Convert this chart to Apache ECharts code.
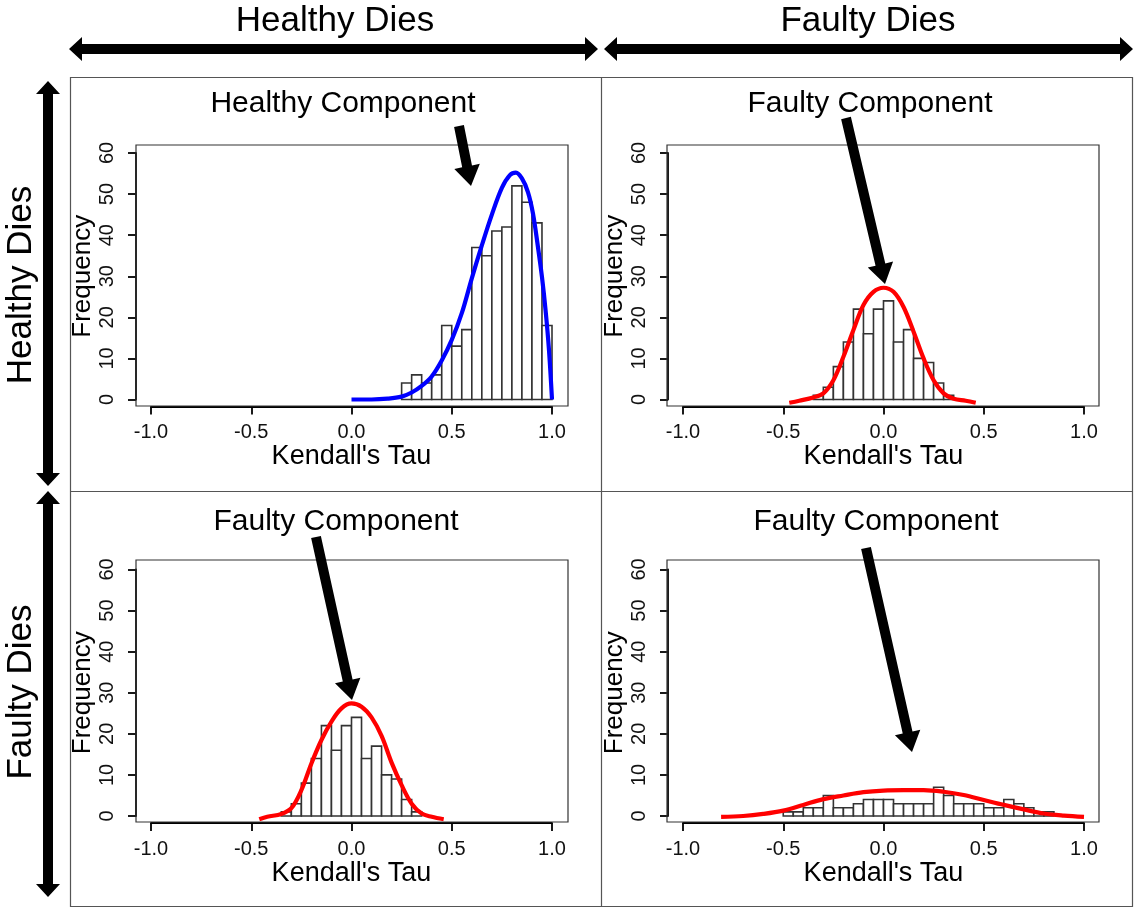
<!DOCTYPE html>
<html>
<head>
<meta charset="utf-8">
<title>Kendall's Tau histograms</title>
<script src="https://cdn.jsdelivr.net/npm/echarts@6/dist/echarts.min.js"></script>
<style>
  html, body { margin: 0; padding: 0; background: #ffffff; }
  #chart { width: 1134px; height: 909px; }
</style>
</head>
<body>
<div id="chart"></div>
<script>
// ---- data ---------------------------------------------------------------
const binWidth = 0.05;
const xTicks = [-1.0, -0.5, 0.0, 0.5, 1.0];
const yTicks = [0, 10, 20, 30, 40, 50, 60];

const rowLabels = ['Healthy Dies', 'Faulty Dies'];
const colLabels = ['Healthy Dies', 'Faulty Dies'];
const panelTitles = ['Healthy Component', 'Faulty Component', 'Faulty Component', 'Faulty Component'];

// healthy vs healthy
const hhBins   = [0.25, 0.30, 0.35, 0.40, 0.45, 0.50, 0.55, 0.60, 0.65, 0.70, 0.75, 0.80, 0.85, 0.90, 0.95];
const hhCounts = [4, 6, 4, 6, 18, 13, 17, 37, 35, 41, 42, 52, 48, 43, 18];
const hhCurveTau  = [0.00, 0.10, 0.18, 0.25, 0.30, 0.35, 0.40, 0.45, 0.50, 0.55, 0.60, 0.65, 0.70, 0.75, 0.79, 0.82, 0.85, 0.88, 0.905, 0.93, 0.95, 0.968, 0.985, 1.00];
const hhCurveFreq = [0.0, 0.0, 0.2, 0.7, 1.7, 3.3, 5.6, 9.5, 14.5, 21.0, 29.5, 37.5, 45.0, 51.5, 54.6, 55.2, 53.8, 50.5, 45.3, 37.1, 29.8, 21.7, 12.0, 0.0];

// healthy vs faulty
const hfBins   = [-0.35, -0.30, -0.25, -0.20, -0.15, -0.10, -0.05, 0.00, 0.05, 0.10, 0.15, 0.20, 0.25, 0.30];
const hfCounts = [1, 3, 8, 14, 22, 16, 22, 24, 14, 17, 10, 9, 4, 1];
const hfCurveTau  = [-0.47, -0.42, -0.35, -0.30, -0.25, -0.20, -0.15, -0.10, -0.05, 0.00, 0.05, 0.10, 0.15, 0.20, 0.25, 0.30, 0.35, 0.41, 0.46];
const hfCurveFreq = [-0.8, -0.3, 0.5, 1.5, 4.7, 10.4, 16.9, 23.0, 26.2, 27.2, 26.2, 22.5, 16.5, 10.0, 4.7, 1.5, 0.2, -0.3, -0.8];

// faulty vs healthy
const fhBins   = [-0.35, -0.30, -0.25, -0.20, -0.15, -0.10, -0.05, 0.00, 0.05, 0.10, 0.15, 0.20, 0.25, 0.30];
const fhCounts = [1, 3, 8, 14, 22, 16, 22, 24, 14, 17, 10, 9, 4, 1];
const fhCurveTau  = [-0.46, -0.42, -0.35, -0.30, -0.25, -0.20, -0.15, -0.10, -0.05, 0.00, 0.05, 0.10, 0.15, 0.20, 0.25, 0.30, 0.35, 0.40, 0.46];
const fhCurveFreq = [-0.8, -0.2, 0.5, 1.9, 6.3, 12.8, 18.5, 23.0, 26.2, 27.4, 26.6, 24.0, 19.5, 13.0, 7.5, 3.0, 0.6, -0.2, -0.8];

// faulty vs faulty
const ffBins   = [-0.50, -0.45, -0.40, -0.35, -0.30, -0.25, -0.20, -0.15, -0.10, -0.05, 0.00, 0.05, 0.10, 0.15, 0.20, 0.25, 0.30, 0.35, 0.40, 0.45, 0.50, 0.55, 0.60, 0.65, 0.70, 0.75, 0.80];
const ffCounts = [1, 1, 2, 2, 5, 2, 2, 3, 4, 4, 4, 3, 3, 3, 3, 7, 5, 3, 3, 3, 2, 2, 4, 3, 2, 1, 1];
const ffCurveTau  = [-0.81, -0.70, -0.60, -0.50, -0.40, -0.30, -0.20, -0.10, 0.00, 0.10, 0.20, 0.30, 0.40, 0.50, 0.60, 0.70, 0.80, 0.90, 1.00];
const ffCurveFreq = [-0.2, 0.0, 0.5, 1.3, 2.7, 4.1, 5.0, 5.8, 6.2, 6.3, 6.3, 5.9, 5.1, 3.9, 2.7, 1.6, 0.6, 0.1, -0.2];

// ---- layout ---------------------------------------------------------------
const FONT = '"Liberation Sans", Arial, sans-serif';
const panels = [
  { bins: hhBins, counts: hhCounts, tau: hhCurveTau, freq: hhCurveFreq, color: '#0000ff',
    left: 151, top: 153, box: [136, 145, 432, 261], title: [343, 104], arrow: [459, 126, 471, 186] },
  { bins: hfBins, counts: hfCounts, tau: hfCurveTau, freq: hfCurveFreq, color: '#ff0000',
    left: 683, top: 153, box: [667, 145, 432, 261], title: [870, 104], arrow: [846, 118, 885, 284] },
  { bins: fhBins, counts: fhCounts, tau: fhCurveTau, freq: fhCurveFreq, color: '#ff0000',
    left: 151, top: 569.5, box: [136, 560, 432, 262], title: [336, 522], arrow: [316, 537, 352, 700] },
  { bins: ffBins, counts: ffCounts, tau: ffCurveTau, freq: ffCurveFreq, color: '#ff0000',
    left: 683, top: 569.5, box: [667, 560, 432, 262], title: [876, 522], arrow: [866, 548, 912, 752] }
];
const plotW = 401, plotH = 246.5;

// polygon for a straight arrow, optionally with a head at both ends
function arrowPoints(x1, y1, x2, y2, shaft, headLen, headHalf, both) {
  const dx = x2 - x1, dy = y2 - y1, L = Math.hypot(dx, dy);
  const ux = dx / L, uy = dy / L, nx = -uy, ny = ux, s = shaft / 2;
  const bx = x2 - ux * headLen, by = y2 - uy * headLen;
  const pts = [];
  if (both) {
    const ax = x1 + ux * headLen, ay = y1 + uy * headLen;
    pts.push([ax - nx * s, ay - ny * s], [ax - nx * headHalf, ay - ny * headHalf], [x1, y1],
             [ax + nx * headHalf, ay + ny * headHalf], [ax + nx * s, ay + ny * s]);
  } else {
    pts.push([x1 - nx * s, y1 - ny * s], [x1 + nx * s, y1 + ny * s]);
  }
  pts.push([bx + nx * s, by + ny * s], [bx + nx * headHalf, by + ny * headHalf], [x2, y2],
           [bx - nx * headHalf, by - ny * headHalf], [bx - nx * s, by - ny * s]);
  return pts;
}

const grid = [], xAxis = [], yAxis = [], series = [], graphic = [];

panels.forEach((p, i) => {
  grid.push({ left: p.left, top: p.top, width: plotW, height: plotH, containLabel: false });
  xAxis.push({
    gridIndex: i, type: 'value', min: xTicks[0], max: xTicks[xTicks.length - 1], interval: 0.5,
    offset: 7, name: "Kendall's Tau", nameLocation: 'middle', nameGap: 31,
    nameTextStyle: { fontFamily: FONT, fontSize: 27, color: '#000' },
    axisLine: { show: true, onZero: false, lineStyle: { color: '#000', width: 1.8 } },
    axisTick: { show: true, inside: false, length: 8, lineStyle: { color: '#000', width: 1.8 } },
    axisLabel: { show: true, margin: 16, fontFamily: FONT, fontSize: 20, color: '#111',
                 showMinLabel: true, showMaxLabel: true, hideOverlap: false,
                 formatter: v => v.toFixed(1) },
    splitLine: { show: false }
  });
  yAxis.push({
    gridIndex: i, type: 'value', min: yTicks[0], max: yTicks[yTicks.length - 1], interval: 10,
    offset: 15, name: 'Frequency', nameLocation: 'middle', nameGap: 40,
    nameTextStyle: { fontFamily: FONT, fontSize: 26, color: '#000' },
    axisLine: { show: true, onZero: false, lineStyle: { color: '#000', width: 1.8 } },
    axisTick: { show: true, inside: false, length: 8, lineStyle: { color: '#000', width: 1.8 } },
    axisLabel: { show: true, margin: 19, rotate: 90, fontFamily: FONT, fontSize: 20, color: '#111',
                 showMinLabel: true, showMaxLabel: true, hideOverlap: false },
    splitLine: { show: false }
  });
  series.push({
    type: 'custom', xAxisIndex: i, yAxisIndex: i, z: 2,
    data: p.bins.map((b, k) => [b, b + binWidth, p.counts[k]]),
    encode: { x: [0, 1], y: 2 },
    renderItem: (params, api) => {
      const a = api.coord([api.value(0), 0]);
      const b = api.coord([api.value(1), api.value(2)]);
      return { type: 'rect',
               shape: { x: a[0], y: b[1], width: b[0] - a[0], height: a[1] - b[1] },
               style: { fill: '#ffffff', stroke: '#333333', lineWidth: 1.6 } };
    }
  });
  series.push({
    type: 'line', xAxisIndex: i, yAxisIndex: i, z: 3, smooth: 0.35, clip: false,
    symbol: 'none', data: p.tau.map((t, k) => [t, p.freq[k]]),
    lineStyle: { color: p.color, width: 4.2 }
  });
  // plot frame
  graphic.push({ type: 'rect', shape: { x: p.box[0], y: p.box[1], width: p.box[2], height: p.box[3] },
                 style: { fill: 'none', stroke: '#333', lineWidth: 1.2 }, z: 1, silent: true });
  // panel title and pointer arrow
  graphic.push({ type: 'text', x: p.title[0], y: p.title[1], z: 5,
                 style: { text: panelTitles[i], font: '30px ' + FONT, fill: '#000',
                          textAlign: 'center', textVerticalAlign: 'middle' } });
  const a = p.arrow;
  graphic.push({ type: 'polygon', z: 5, shape: { points: arrowPoints(a[0], a[1], a[2], a[3], 10, 20, 13, false) },
                 style: { fill: '#000' } });
});

// outer frame dividing the four cells
graphic.push({ type: 'rect', shape: { x: 70.5, y: 77.5, width: 1062, height: 829 },
               style: { fill: 'none', stroke: '#555', lineWidth: 1.2 }, z: 0 });
graphic.push({ type: 'line', shape: { x1: 601.5, y1: 77.5, x2: 601.5, y2: 906.5 },
               style: { stroke: '#555', lineWidth: 1.2 }, z: 0 });
graphic.push({ type: 'line', shape: { x1: 70.5, y1: 491.5, x2: 1132.5, y2: 491.5 },
               style: { stroke: '#555', lineWidth: 1.2 }, z: 0 });

// column and row headers with double-headed arrows
graphic.push({ type: 'text', x: 335, y: 21, style: { text: colLabels[0], font: '35px ' + FONT, fill: '#000', textAlign: 'center', textVerticalAlign: 'middle' } });
graphic.push({ type: 'text', x: 868, y: 21, style: { text: colLabels[1], font: '35px ' + FONT, fill: '#000', textAlign: 'center', textVerticalAlign: 'middle' } });
graphic.push({ type: 'text', x: 21, y: 285, rotation: Math.PI / 2, style: { text: rowLabels[0], font: '35px ' + FONT, fill: '#000', textAlign: 'center', textVerticalAlign: 'middle' } });
graphic.push({ type: 'text', x: 21, y: 692, rotation: Math.PI / 2, style: { text: rowLabels[1], font: '35px ' + FONT, fill: '#000', textAlign: 'center', textVerticalAlign: 'middle' } });

[[69, 49, 598, 49], [604, 49, 1133, 49], [48, 81, 48, 486], [48, 491, 48, 897]].forEach(s => {
  graphic.push({ type: 'polygon', shape: { points: arrowPoints(s[0], s[1], s[2], s[3], 10, 13, 12, true) },
                 style: { fill: '#000' } });
});

const chart = echarts.init(document.getElementById('chart'), null, { renderer: 'canvas' });
chart.setOption({
  animation: false,
  backgroundColor: '#ffffff',
  grid, xAxis, yAxis, series, graphic
});
</script>
</body>
</html>
